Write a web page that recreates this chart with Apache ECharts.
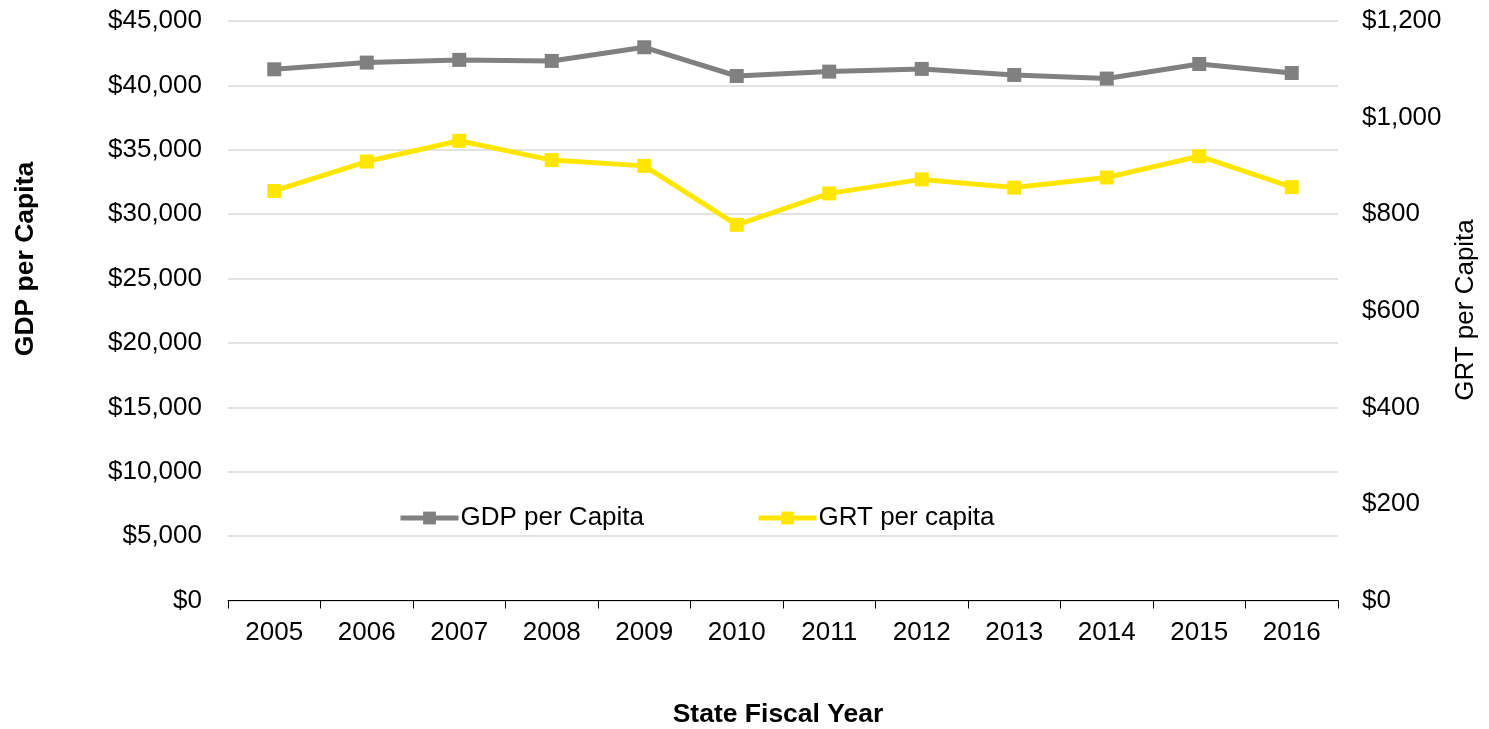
<!DOCTYPE html>
<html>
<head>
<meta charset="utf-8">
<script src="https://cdn.jsdelivr.net/npm/echarts@6/dist/echarts.min.js"></script>
<style>
  html, body { margin: 0; padding: 0; background: #fff; }
  #chart { width: 1489px; height: 729px; }
</style>
</head>
<body>
<div id="chart"></div>
<script>
// Fiscal years on the category axis
const years = ['2005', '2006', '2007', '2008', '2009', '2010', '2011', '2012', '2013', '2014', '2015', '2016'];
// GDP per capita (left axis, dollars)
const gdpPerCapita = [41250, 41770, 41980, 41900, 42960, 40730, 41070, 41280, 40810, 40530, 41660, 40960];
// Gross receipts tax per capita (right axis, dollars)
const grtPerCapita = [848, 909, 952, 912, 900, 778, 843, 872, 855, 876, 920, 856];

const FONT = 'Liberation Sans, Arial, sans-serif';
const money = v => '$' + v.toLocaleString('en-US');

const chart = echarts.init(document.getElementById('chart'), null, { renderer: 'canvas' });

chart.setOption({
  animation: false,
  backgroundColor: '#ffffff',
  textStyle: { fontFamily: FONT },
  grid: { left: 228, right: 151, top: 21, bottom: 128.5, containLabel: false },
  legend: {
    left: 393,
    top: 500,
    itemWidth: 58,
    itemHeight: 16,
    itemGap: 112,
    textStyle: { fontFamily: FONT, fontSize: 26, color: '#000', padding: [0, 0, 0, -3] },
    data: [
      { name: 'GDP per Capita', lineStyle: { width: 5 } },
      { name: 'GRT per capita', lineStyle: { width: 5 } }
    ]
  },
  xAxis: {
    type: 'category',
    data: years,
    boundaryGap: true,
    axisLine: { show: true, lineStyle: { color: '#000', width: 1 } },
    axisTick: { show: true, length: 8, lineStyle: { color: '#000' } },
    axisLabel: { fontFamily: FONT, fontSize: 26, color: '#000', margin: 19 },
    splitLine: { show: false }
  },
  yAxis: [
    {
      type: 'value',
      min: 0, max: 45000, interval: 5000,
      axisLine: { show: false },
      axisTick: { show: false },
      axisLabel: { fontFamily: FONT, fontSize: 26, color: '#000', margin: 26, formatter: money },
      splitLine: { show: true, lineStyle: { color: '#d9d9d9', width: 1.5 } }
    },
    {
      type: 'value',
      position: 'right',
      min: 0, max: 1200, interval: 200,
      axisLine: { show: false },
      axisTick: { show: false },
      axisLabel: { fontFamily: FONT, fontSize: 26, color: '#000', margin: 24, formatter: money },
      splitLine: { show: false }
    }
  ],
  series: [
    {
      name: 'GDP per Capita',
      type: 'line',
      yAxisIndex: 0,
      data: gdpPerCapita,
      symbol: 'rect',
      symbolSize: 14,
      lineStyle: { color: '#808080', width: 5 },
      itemStyle: { color: '#808080' }
    },
    {
      name: 'GRT per capita',
      type: 'line',
      yAxisIndex: 1,
      data: grtPerCapita,
      symbol: 'rect',
      symbolSize: 14,
      lineStyle: { color: '#ffe600', width: 5 },
      itemStyle: { color: '#ffe600' }
    }
  ],
  graphic: [
    {
      type: 'text',
      x: 26, y: 259,
      rotation: Math.PI / 2,
      style: {
        text: 'GDP per Capita',
        font: 'bold 26.5px ' + FONT,
        fill: '#000',
        align: 'center',
        verticalAlign: 'middle'
      }
    },
    {
      type: 'text',
      x: 1466, y: 310,
      rotation: Math.PI / 2,
      style: {
        text: 'GRT per Capita',
        font: '26px ' + FONT,
        fill: '#000',
        align: 'center',
        verticalAlign: 'middle'
      }
    },
    {
      type: 'text',
      x: 778, y: 715,
      style: {
        text: 'State Fiscal Year',
        font: 'bold 26.5px ' + FONT,
        fill: '#000',
        align: 'center',
        verticalAlign: 'middle'
      }
    }
  ]
});
</script>
</body>
</html>
